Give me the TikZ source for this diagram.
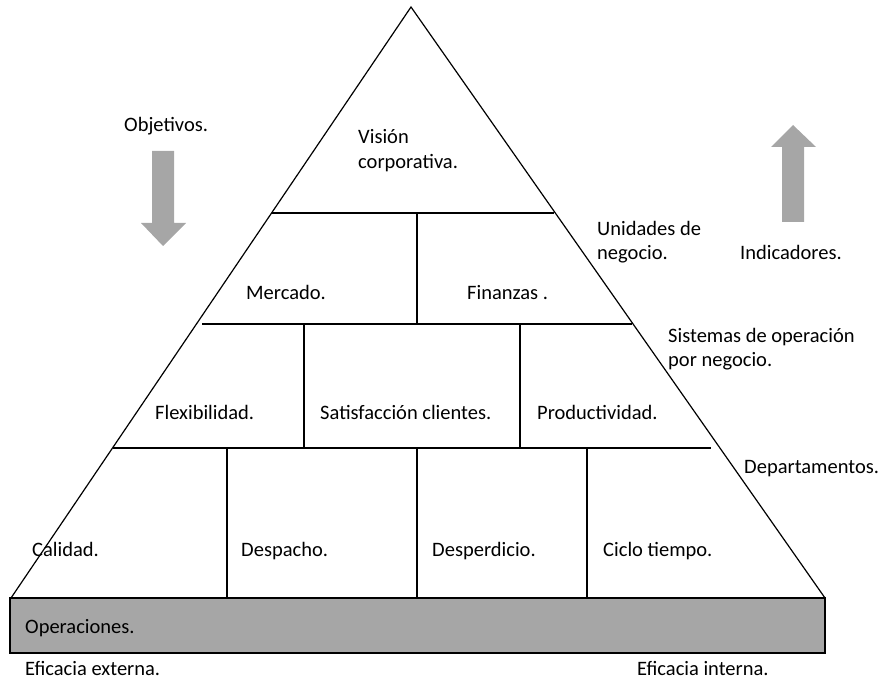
\documentclass[tikz,border=0pt]{standalone}
\usepackage{fontspec}
\setmainfont{Carlito}
\begin{document}
\begin{tikzpicture}[x=1pt,y=-1pt,
  edge/.style={line width=1.2pt,draw=black},
  lbl/.style={anchor=base west,inner sep=0pt,font=\fontsize{20.5}{24}\selectfont},
  bigarrow/.style={fill=arrowgray,draw=none}]
\definecolor{arrowgray}{HTML}{A6A6A6}
\definecolor{bargray}{HTML}{A6A6A6}
\useasboundingbox (0,0) rectangle (885,684);

% base bar
\draw[edge,fill=bargray] (10,598) rectangle (825,653);

% pyramid outline
\draw[edge,line join=miter] (11,598) -- (411,7) -- (825,598);

% horizontal tiers
\draw[edge] (272,213) -- (554,213);
\draw[edge] (202,324) -- (632,324);
\draw[edge] (113,448) -- (711,448);

% vertical dividers
\draw[edge] (417,213) -- (417,324);
\draw[edge] (304,324) -- (304,448);
\draw[edge] (520,324) -- (520,448);
\draw[edge] (227,448) -- (227,598);
\draw[edge] (417,448) -- (417,598);
\draw[edge] (587,448) -- (587,598);

% arrows
\fill[bigarrow] (152,151) -- (174,151) -- (174,223) -- (186,223) -- (163,246) -- (141,223) -- (152,223) -- cycle;
\fill[bigarrow] (782,222) -- (804,222) -- (804,147) -- (816,147) -- (793,125) -- (771,147) -- (782,147) -- cycle;

% labels inside the pyramid
\node[lbl] (vision) at (358,144) {Visión};
\node[lbl] (corp) at (358,169) {corporativa.};
\node[lbl] (mercado) at (246,299) {Mercado.};
\node[lbl] (finanzas) at (467,299) {Finanzas .};
\node[lbl] (flex) at (155,419) {Flexibilidad.};
\node[lbl] (satis) at (320,419) {Satisfacción clientes.};
\node[lbl] (prod) at (537,419) {Productividad.};
\node[lbl] (calidad) at (32,556) {Calidad.};
\node[lbl] (despacho) at (241,556) {Despacho.};
\node[lbl] (desperdicio) at (432,556) {Desperdicio.};
\node[lbl] (ciclo) at (603,556) {Ciclo tiempo.};
\node[lbl] (oper) at (25,633) {Operaciones.};

% labels outside
\node[lbl] (obj) at (124,132) {Objetivos.};
\node[lbl] (ind) at (740,260) {Indicadores.};
\node[lbl] (unid1) at (597,236) {Unidades de};
\node[lbl] (unid2) at (597,260) {negocio.};
\node[lbl] (sist1) at (668,342) {Sistemas de operación};
\node[lbl] (sist2) at (668,366) {por negocio.};
\node[lbl] (depto) at (744,473) {Departamentos.};
\node[lbl] (ext) at (25,675) {Eficacia externa.};
\node[lbl] (int) at (637,675) {Eficacia interna.};
\end{tikzpicture}
\end{document}
